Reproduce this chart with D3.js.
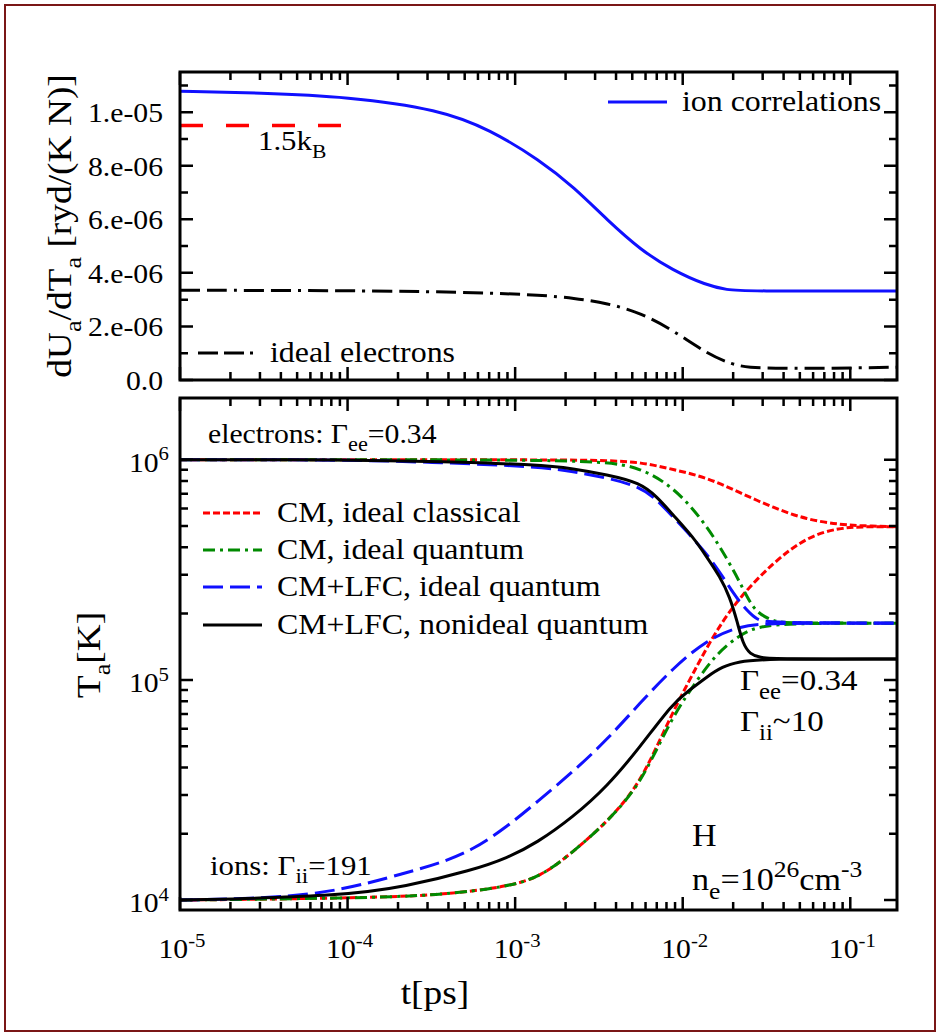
<!DOCTYPE html>
<html><head><meta charset="utf-8">
<script src="https://cdn.jsdelivr.net/npm/d3@7"></script>
<style>body{margin:0;background:#fff}svg{display:block}</style>
</head><body>
<script>
// ---------------- data ----------------
// top panel: dU_a/dT_a [ryd/(K N)] vs t [ps]
const ionCorr = [[1e-5,10.78e-6],[3e-5,10.72e-6],[1e-4,10.58e-6],[3.55e-4,10.1e-6],[7.08e-4,9.35e-6],[1.41e-3,8.2e-6],[2.24e-3,7.2e-6],[3.55e-3,5.97e-6],[5.62e-3,4.85e-6],[8.7e-3,4.1e-6],[1.38e-2,3.54e-6],[1.86e-2,3.36e-6],[2.3e-2,3.32e-6],[0.19,3.32e-6]];
const idealElectrons = [[1e-5,3.35e-6],[1e-4,3.34e-6],[3e-4,3.3e-6],[7e-4,3.25e-6],[1.41e-3,3.17e-6],[2.24e-3,3.06e-6],[3.55e-3,2.87e-6],[5.62e-3,2.5e-6],[8.7e-3,1.87e-6],[1.38e-2,1.0e-6],[2.0e-2,0.56e-6],[2.5e-2,0.47e-6],[3.47e-2,0.44e-6],[6e-2,0.43e-6],[0.1,0.45e-6],[0.19,0.48e-6]];
const classicalLimit = [[1e-5,9.5e-6],[9.3e-5,9.5e-6]];
// bottom panel: temperatures T_a [K] vs t [ps]  (E = electrons, I = ions)
const redE = [[1e-5,1e6],[2e-3,1e6],[3.55e-3,0.99e6],[5.62e-3,0.975e6],[8.9e-3,9.0e5],[1.41e-2,8.28e5],[2.19e-2,7.08e5],[3.47e-2,6.05e5],[5.5e-2,5.34e5],[8.7e-2,5.07e5],[0.12,5.0e5],[0.19,4.96e5]];
const redI = [[1e-5,1.0e4],[1e-4,1.02e4],[3.56e-4,1.05e4],[8.93e-4,1.15e4],[1.41e-3,1.27e4],[2.21e-3,1.65e4],[3.53e-3,2.26e4],[5.05e-3,3.1e4],[6.37e-3,4.24e4],[8.74e-3,7.16e4],[1.1e-2,1.0e5],[1.27e-2,1.23e5],[1.6e-2,1.69e5],[2.19e-2,2.38e5],[3.45e-2,3.4e5],[5.5e-2,4.47e5],[8.67e-2,4.91e5],[0.12,4.96e5],[0.19,4.96e5]];
const greenE = [[1e-5,1e6],[1e-3,1e6],[3.53e-3,0.98e6],[5.56e-3,9.2e5],[8.74e-3,7.54e5],[1.27e-2,5.5e5],[1.67e-2,4.03e5],[2.11e-2,2.94e5],[2.42e-2,2.38e5],[2.75e-2,2.02e5],[3.5e-2,1.84e5],[4.3e-2,1.81e5],[0.19,1.81e5]];
const greenI = [[1e-5,1.0e4],[1e-4,1.02e4],[3.56e-4,1.05e4],[8.93e-4,1.15e4],[1.41e-3,1.27e4],[2.21e-3,1.65e4],[3.53e-3,2.26e4],[5.05e-3,3.08e4],[6.37e-3,4.15e4],[8.74e-3,6.86e4],[1.22e-2,1.0e5],[1.6e-2,1.32e5],[2.19e-2,1.6e5],[2.75e-2,1.74e5],[4.3e-2,1.81e5],[0.19,1.81e5]];
const blueE = [[1e-5,1e6],[1e-4,1e6],[3.56e-4,0.97e6],[1.41e-3,9.3e5],[2.21e-3,8.82e5],[3.53e-3,8.28e5],[5.56e-3,7.54e5],[7.02e-3,6.58e5],[8.74e-3,5.5e5],[1.39e-2,3.78e5],[1.83e-2,2.76e5],[2.19e-2,2.24e5],[2.75e-2,1.87e5],[3.16e-2,1.82e5],[0.19,1.81e5]];
const blueI = [[1e-5,1.0e4],[3.59e-5,1.02e4],[9e-5,1.1e4],[2.23e-4,1.33e4],[3.56e-4,1.47e4],[5.6e-4,1.69e4],[8.93e-4,2.15e4],[1.35e-3,2.79e4],[2.21e-3,3.82e4],[3.53e-3,5.34e4],[5.56e-3,7.85e4],[8.74e-3,1.13e5],[1.39e-2,1.52e5],[2.19e-2,1.76e5],[3.3e-2,1.81e5],[0.19,1.81e5]];
const blackE = [[1e-5,1e6],[1e-4,1e6],[3.56e-4,0.98e6],[1.41e-3,9.49e5],[2.21e-3,9.1e5],[3.53e-3,8.55e5],[5.56e-3,7.86e5],[7.02e-3,6.79e5],[8.74e-3,5.62e5],[1.15e-2,4.47e5],[1.39e-2,3.62e5],[1.67e-2,2.94e5],[1.91e-2,2.38e5],[2.11e-2,1.85e5],[2.29e-2,1.45e5],[2.52e-2,1.31e5],[2.89e-2,1.26e5],[3.55e-2,1.245e5],[0.19,1.245e5]];
const blackI = [[1e-5,1.0e4],[9e-5,1.04e4],[2.23e-4,1.15e4],[5.6e-4,1.37e4],[8.93e-4,1.55e4],[1.35e-3,1.82e4],[2.21e-3,2.38e4],[3.53e-3,3.27e4],[5.56e-3,4.95e4],[8.74e-3,7.85e4],[1.1e-2,9.0e4],[1.39e-2,1.03e5],[1.72e-2,1.15e5],[2.19e-2,1.21e5],[2.89e-2,1.245e5],[0.19,1.245e5]];

const legendBottom = ["CM, ideal classical","CM, ideal quantum","CM+LFC, ideal quantum","CM+LFC, nonideal quantum"];
const xTickExp = [-5,-4,-3,-2,-1];
const yTopTicks = [0,2e-6,4e-6,6e-6,8e-6,1e-5];
const yTopLabels = ["0.0","2.e-06","4.e-06","6.e-06","8.e-06","1.e-05"];
const yBotExp = [4,5,6];

// ---------------- layout ----------------
const W = 940, H = 1036;
const L = 180, R = 897;
const topP = {t:72, b:380}, botP = {t:398, b:910};
const FONT = "'Liberation Serif','Times New Roman',serif";
const SX = 1.1;
const COL = {red:"#ff0000", green:"#008a00", blue:"#1010ff", black:"#000"};

const svg = d3.select("body").append("svg").attr("width",W).attr("height",H)
  .style("font-family",FONT);
svg.append("rect").attr("x",0).attr("y",0).attr("width",W).attr("height",H).attr("fill","#fff");
svg.append("rect").attr("x",5).attr("y",5).attr("width",W-10).attr("height",H-10)
  .attr("fill","none").attr("stroke","#7a1616").attr("stroke-width",2);

const x = d3.scaleLog().domain([1e-5,0.19]).range([L,R]);
const yTop = d3.scaleLinear().domain([0,1.15e-5]).range([topP.b,topP.t]);
const yBot = d3.scaleLog().domain([Math.pow(10,3.955),Math.pow(10,6.28)]).range([botP.b,botP.t]);

const defs = svg.append("defs");
const layerCurves = svg.append("g");
const layerFrame = svg.append("g");
const layerText = svg.append("g");

function rich(x0,y0,parts,size,anchor,rot,ss){
  ss = ss || 0.7;
  const g = layerText.append("g").attr("transform",`translate(${x0},${y0})${rot?` rotate(${rot})`:""} scale(${SX},1)`);
  const t = g.append("text").attr("font-size",size).attr("fill","#000").attr("text-anchor",anchor||"start");
  let shift = 0;
  parts.forEach(([s,k])=>{
    const target = k==="sub"? size*0.3 : k==="sup"? -size*0.42 : 0;
    const ts = t.append("tspan").attr("dy",target-shift).text(s);
    if(k!=="n") ts.attr("font-size",size*ss);
    shift = target;
  });
  return t;
}

const xMajor = xTickExp.map(e=>Math.pow(10,e));
const xMinor = [];
for(let e=-5;e<=-1;e++) for(let m=2;m<=9;m++){const v=m*Math.pow(10,e); if(v<=0.19) xMinor.push(v);}
const yBotMajor = yBotExp.map(e=>Math.pow(10,e));
const yBotMinor = [];
for(let e=4;e<=6;e++) for(let m=2;m<=9;m++){const v=m*Math.pow(10,e); if(v<=Math.pow(10,6.28)) yBotMinor.push(v);}
const yTopMinor = [1e-6,3e-6,5e-6,7e-6,9e-6,11e-6];

function tickPath(vals, horiz, pos, from, len){
  const d = vals.map(v=>{
    const p = pos(v);
    return horiz ? `M${p},${from}V${from+len}` : `M${from},${p}H${from+len}`;
  }).join("");
  layerFrame.append("path").attr("d",d).attr("fill","none").attr("stroke","#000").attr("stroke-width",2.5);
}
function panelAxes(p, y, yMaj, yMin){
  tickPath(xMajor,true,x,p.b,-13); tickPath(xMinor,true,x,p.b,-8);
  tickPath(xMajor,true,x,p.t,13);  tickPath(xMinor,true,x,p.t,8);
  tickPath(yMaj,false,y,L,13); tickPath(yMin,false,y,L,8);
  tickPath(yMaj,false,y,R,-13); tickPath(yMin,false,y,R,-8);
  layerFrame.append("rect").attr("x",L).attr("y",p.t).attr("width",R-L).attr("height",p.b-p.t)
    .attr("fill","none").attr("stroke","#000").attr("stroke-width",3);
}

function clip(id,p){
  defs.append("clipPath").attr("id",id).append("rect").attr("x",L).attr("y",p.t).attr("width",R-L).attr("height",p.b-p.t);
}
clip("cTop",topP); clip("cBot",botP);

function curve(data, y, color, dash, clipId, w, cf){
  const line = d3.line().x(d=>x(d[0])).y(d=>y(d[1])).curve(cf||d3.curveBasis);
  const p = layerCurves.append("path").datum(data).attr("d",line).attr("fill","none")
    .attr("stroke",color).attr("stroke-width",w||3)
    .attr("clip-path",`url(#${clipId})`);
  if(dash) p.attr("stroke-dasharray",dash);
  return p;
}

// ---------------- top panel ----------------
const dashElec = "20,7,20,7,3,7";
curve(classicalLimit, yTop, COL.red, "23,23", "cTop", 3.5, d3.curveLinear);
curve(idealElectrons, yTop, COL.black, dashElec, "cTop", 3);
curve(ionCorr, yTop, COL.blue, null, "cTop", 3);

layerCurves.append("line").attr("x1",608).attr("x2",667).attr("y1",102).attr("y2",102).attr("stroke",COL.blue).attr("stroke-width",3);
rich(682,111,[["ion correlations","n"]],29);
layerCurves.append("line").attr("x1",198).attr("x2",255).attr("y1",353).attr("y2",353).attr("stroke",COL.black).attr("stroke-width",3).attr("stroke-dasharray","20,6,20,6,3,7");
rich(270,362,[["ideal electrons","n"]],29);
rich(258,150,[["1.5k","n"],["B","sub"]],28);

panelAxes(topP, yTop, yTopTicks, yTopMinor);
yTopTicks.forEach((v,i)=> rich(163, yTop(v)+10, [[yTopLabels[i],"n"]], 27, "end"));
rich(71, (topP.t+topP.b)/2, [["dU","n"],["a","sub"],["/dT","n"],["a","sub"],[" [ryd/(K N)]","n"]], 34, "middle", -90);

// ---------------- bottom panel ----------------
const dRed = "7,3", dGreen = "12,5,3,5", dBlue = "20,7";
[[redE,redI,COL.red,dRed],[greenE,greenI,COL.green,dGreen],[blueE,blueI,COL.blue,dBlue],[blackE,blackI,COL.black,null]]
  .forEach(([e,i,c,d])=>{ curve(e,yBot,c,d,"cBot",3); curve(i,yBot,c,d,"cBot",3); });

const legY = [513,550,587,625];
const legStyle = [[COL.red,dRed],[COL.green,dGreen],[COL.blue,dBlue],[COL.black,null]];
legendBottom.forEach((s,i)=>{
  layerCurves.append("line").attr("x1",203).attr("x2",262).attr("y1",legY[i]).attr("y2",legY[i])
    .attr("stroke",legStyle[i][0]).attr("stroke-width",3).attr("stroke-dasharray",legStyle[i][1]);
  rich(277, legY[i]+9, [[s,"n"]], 29);
});

rich(208,443,[["electrons: Γ","n"],["ee","sub"],["=0.34","n"]],27,null,null,0.75);
rich(210,875,[["ions: Γ","n"],["ii","sub"],["=191","n"]],28,null,null,0.75);
rich(740,690,[["Γ","n"],["ee","sub"],["=0.34","n"]],30,null,null,0.75);
rich(740,731,[["Γ","n"],["ii","sub"],["~10","n"]],30,null,null,0.75);
rich(692,846,[["H","n"]],31);
rich(692,890,[["n","n"],["e","sub"],["=10","n"],["26","sup"],["cm","n"],["-3","sup"]],31,null,null,0.75);

panelAxes(botP, yBot, yBotMajor, yBotMinor);
yBotExp.forEach(e=> rich(169, yBot(Math.pow(10,e))+12, [["10","n"],[String(e),"sup"]], 27, "end"));
xTickExp.forEach(e=> rich(x(Math.pow(10,e))+2, 958, [["10","n"],[String(e),"sup"]], 27, "middle"));
rich(100, 655, [["T","n"],["a","sub"],["[K]","n"]], 34, "middle", -90);
rich(435, 1004, [["t[ps]","n"]], 34, "middle");
</script>
</body></html>
